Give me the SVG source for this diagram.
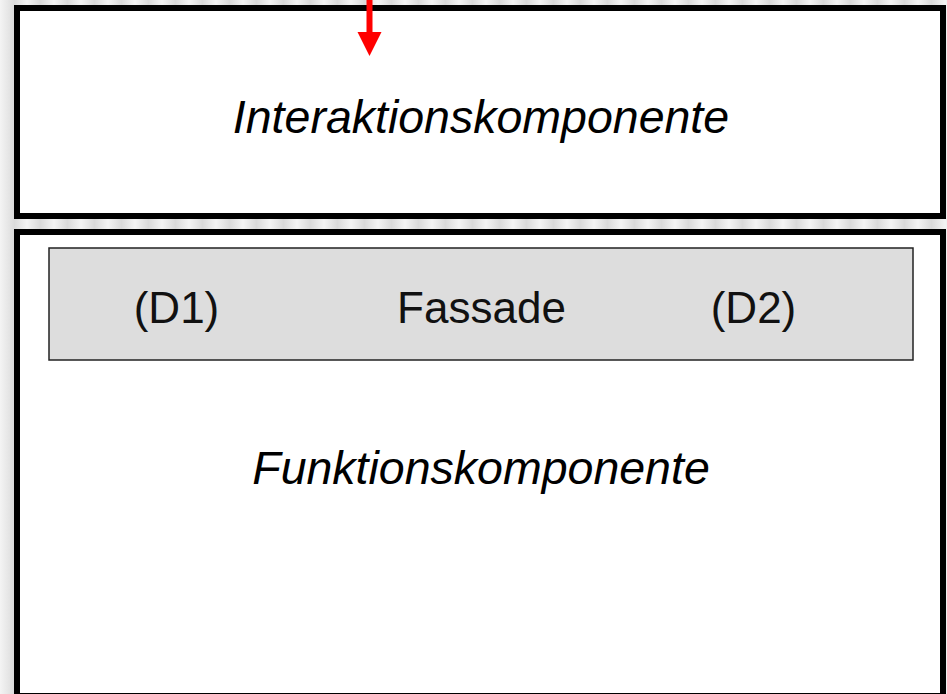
<svg xmlns="http://www.w3.org/2000/svg" width="947" height="694" viewBox="0 0 947 694">
  <style>
    .comp { fill: #ffffff; stroke: #000000; stroke-width: 6; }
    .fassade { fill: #dddddd; stroke: #222222; stroke-width: 1.5; }
    .title { font-family: "Liberation Sans", Arial, sans-serif; font-style: italic; font-size: 46.5px; fill: #000000; text-anchor: middle; }
    .label { font-family: "Liberation Sans", Arial, sans-serif; font-size: 44px; fill: #111111; text-anchor: middle; }
    .arrow { stroke: #ff0000; stroke-width: 6; fill: none; }
    .arrowhead { fill: #ff0000; }
  </style>
  <defs>
    <linearGradient id="stripeGrad" x1="0" y1="0" x2="1" y2="0">
      <stop offset="0" stop-color="#f3f3f3"/>
      <stop offset="0.5" stop-color="#d9d9d9"/>
      <stop offset="1" stop-color="#f3f3f3"/>
    </linearGradient>
    <pattern id="stripes" x="0" y="0" width="27" height="10" patternUnits="userSpaceOnUse">
      <rect x="0" y="0" width="27" height="10" fill="url(#stripeGrad)"/>
    </pattern>
    <linearGradient id="sideGrad" x1="0" y1="0" x2="1" y2="0">
      <stop offset="0" stop-color="#f4f4f4"/>
      <stop offset="1" stop-color="#dcdcdc"/>
    </linearGradient>
  </defs>

  <rect x="0" y="0" width="947" height="694" fill="url(#stripes)"/>
  <rect x="0" y="0" width="14" height="694" fill="url(#sideGrad)"/>

  <g id="interaktionskomponente">
    <rect class="comp" x="17" y="8" width="926" height="208"/>
    <text class="title" x="481" y="133">Interaktionskomponente</text>
  </g>

  <g id="funktionskomponente">
    <rect class="comp" x="17" y="232" width="926" height="464"/>
    <text class="title" x="481" y="484">Funktionskomponente</text>
  </g>

  <g id="fassade">
    <rect class="fassade" x="49" y="248" width="864" height="112"/>
    <text class="label" x="176.5" y="323">(D1)</text>
    <text class="label" x="481.5" y="323">Fassade</text>
    <text class="label" x="753.5" y="323">(D2)</text>
  </g>

  <g id="connectors">
    <line class="arrow" x1="369.5" y1="0" x2="369.5" y2="34"/>
    <path class="arrowhead" d="M357.5,32 L381.5,32 L369.5,56 Z"/>
  </g>
</svg>
